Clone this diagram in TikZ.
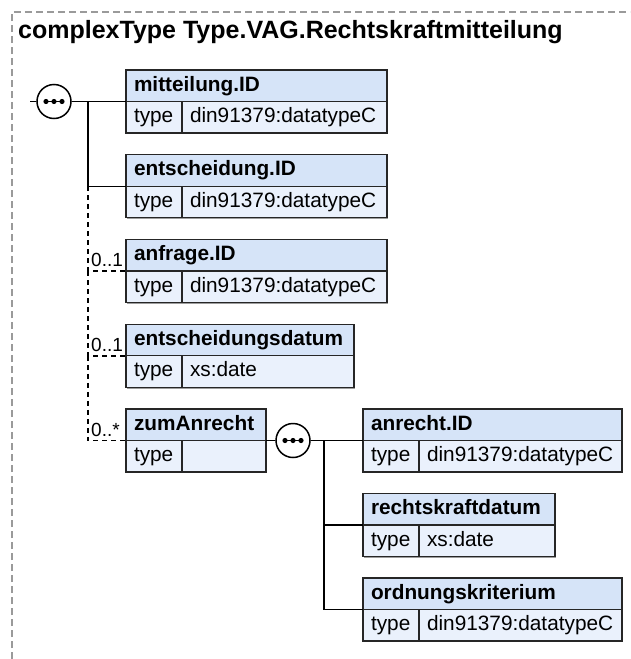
\documentclass[tikz,border=0pt]{standalone}
\usepackage{fontspec}
\setmainfont{Liberation Sans}
\usetikzlibrary{shadows}
\definecolor{headfill}{HTML}{D6E4F8}
\definecolor{rowfill}{HTML}{EAF1FC}
\definecolor{framegray}{HTML}{9A9A9A}
\newcommand\boxfont{\fontsize{20.8}{24}\selectfont}
\newcommand\lblfont{\fontsize{19}{22}\selectfont}
\newcommand\titlefont{\fontsize{25}{30}\selectfont\bfseries}

% element: name, left, top, width, title, type value
\newcommand\xsdelem[6]{%
  \pgfmathsetmacro\hw{#4-16}%
  \pgfmathsetmacro\vw{#4-56}%
  \pgfmathsetmacro\vtw{#4-72}%
  \node[headcell, minimum width=#4pt, text width=\hw pt] (#1) at (#2,#3) {\bfseries #5};
  \node[rowcell, minimum width=56pt, text width=40pt] (#1-t) at (#1.south west) {type};
  \node[rowcell, minimum width=\vw pt, text width=\vtw pt] (#1-v) at (#1-t.north east) {#6};
}

\begin{document}
\begin{tikzpicture}[x=1pt, y=-1pt,
  cell/.style={rectangle, draw=black!85, line width=1.4pt, anchor=north west,
    inner xsep=8pt, inner ysep=0pt, outer sep=0pt, minimum height=31.5pt,
    text height=15pt, text depth=4.5pt, align=left, font=\boxfont,
    drop shadow={shadow xshift=1.4pt, shadow yshift=-1.4pt, fill=black!55, opacity=0.7}},
  headcell/.style={cell, fill=headfill},
  rowcell/.style={cell, fill=rowfill},
  seqcirc/.style={circle, draw=black, fill=white, line width=1.5pt, minimum size=34pt, inner sep=0pt},
  conn/.style={line width=1.5pt},
  optconn/.style={conn, dash pattern=on 5pt off 4pt},
  multlbl/.style={anchor=base west, inner sep=0pt, font=\lblfont}]

  \useasboundingbox (0,0) rectangle (630,659);
  \draw[framegray, line width=1.3pt, dash pattern=on 7pt off 4pt] (12,659) -- (12,12) -- (630,12);
  \node[anchor=base west, inner sep=0pt, font=\titlefont] (title) at (18,38) {complexType Type.VAG.Rechtskraftmitteilung};

  % left sequence
  \xsdelem{mit}{126}{70}{261}{mitteilung.ID}{din91379:datatypeC}
  \xsdelem{ent}{126}{154.75}{261}{entscheidung.ID}{din91379:datatypeC}
  \xsdelem{anf}{126}{239.5}{261}{anfrage.ID}{din91379:datatypeC}
  \xsdelem{dat}{126}{324.25}{228}{entscheidungsdatum}{xs:date}
  \xsdelem{zum}{126}{409}{140}{zumAnrecht}{}

  % right sequence
  \xsdelem{anr}{363}{409}{259}{anrecht.ID}{din91379:datatypeC}
  \xsdelem{rkd}{363}{493.5}{192}{rechtskraftdatum}{xs:date}
  \xsdelem{ord}{363}{578}{259}{ordnungskriterium}{din91379:datatypeC}

  \node[seqcirc] (seqA) at (54,101.5) {};
  \node[seqcirc] (seqB) at (293,440.5) {};
  \foreach \s in {seqA,seqB} {
    \draw[conn] (\s.center) ++(-9,0) -- ++(18,0);
    \foreach \d in {-8,0,8}
      \fill (\s.center) ++(\d,0) circle (2.6pt);
  }

  \coordinate (start) at (30,101.5);
  \coordinate (busA) at (88,101.5);
  \coordinate (busB) at (324,440.5);

  \draw[conn] (start) -- (seqA.west);
  \draw[conn] (seqA.east) -- (mit.south west);
  \draw[conn] (busA) |- (ent.south west);
  \draw[optconn] (busA |- ent.south west) |- (anf.south west);
  \draw[optconn] (busA |- anf.south west) |- (dat.south west);
  \draw[optconn] (busA |- dat.south west) |- (zum.south west);

  \node[multlbl] (anf-m) at ([shift={(3,-4.5)}]busA |- anf.south west) {0..1};
  \node[multlbl] (dat-m) at ([shift={(3,-4.5)}]busA |- dat.south west) {0..1};
  \node[multlbl] (zum-m) at ([shift={(3,-4.5)}]busA |- zum.south west) {0..*};

  \draw[conn] (zum-v.north east) -- (seqB.west);
  \draw[conn] (seqB.east) -- (anr.south west);
  \draw[conn] (busB) |- (rkd.south west);
  \draw[conn] (busB) |- (ord.south west);
\end{tikzpicture}
\end{document}
